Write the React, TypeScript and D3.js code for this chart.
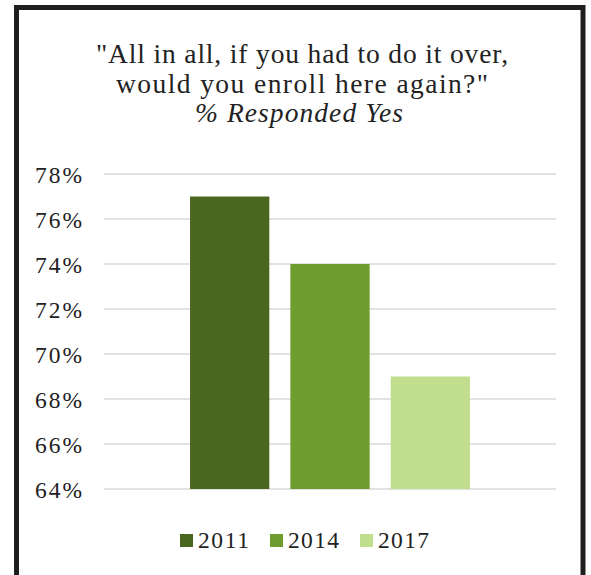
import React from "react";
import * as d3 from "d3";

const series = ["2011", "2014", "2017"];
const values = [77, 74, 69];
const colors = ["#4b671f", "#6f9c2e", "#c0de8e"];
const yTicks = [64, 66, 68, 70, 72, 74, 76, 78];
const titleLines = ["\"All in all, if you had to do it over,", "would you enroll here again?\""];
const subtitle = "% Responded Yes";

export default function App() {
  const W = 591, H = 575;
  const left = 104, right = 556, top = 174, bottom = 489;
  const font = "'Liberation Serif', 'DejaVu Serif', serif";
  const y = d3.scaleLinear().domain([64, 78]).range([bottom, top]);
  const x = d3.scaleBand().domain(series).range([180, 480]).paddingInner(0.21).paddingOuter(0.1);
  const legendX = [180, 270, 360];
  const titleLens = [412, 372];
  return (
    <svg width={W} height={H} style={{ position: "absolute", left: 0, top: 0, background: "#fff" }}>
      <rect x={16.5} y={7.5} width={566.5} height={640} fill="#fff" stroke="#1e1e1e" strokeWidth={5} />
      {titleLines.map((t, i) => (
        <text key={i} x={302} y={63 + i * 30} textAnchor="middle" fontFamily={font} fontSize={27.5} fill="#222"
          textLength={titleLens[i]} lengthAdjust="spacing">{t}</text>
      ))}
      <text x={299} y={122} textAnchor="middle" fontFamily={font} fontSize={27.5} fontStyle="italic" fill="#222"
        textLength={208} lengthAdjust="spacing">{subtitle}</text>
      {yTicks.map((t) => (
        <g key={t}>
          <line x1={left} x2={right} y1={y(t)} y2={y(t)} stroke="#d9d9d9" strokeWidth={1.5} />
          <text x={82} y={y(t) + 8.5} textAnchor="end" fontFamily={font} fontSize={23.5} fill="#222"
            textLength={47} lengthAdjust="spacing">{t}%</text>
        </g>
      ))}
      {series.map((s, i) => (
        <rect key={s} x={x(s)} y={y(values[i])} width={x.bandwidth()} height={y(64) - y(values[i])} fill={colors[i]} />
      ))}
      {series.map((s, i) => (
        <g key={s}>
          <rect x={legendX[i]} y={534} width={13} height={13} fill={colors[i]} />
          <text x={legendX[i] + 18} y={548} fontFamily={font} fontSize={23.5} fill="#222"
            textLength={51} lengthAdjust="spacing">{s}</text>
        </g>
      ))}
    </svg>
  );
}
